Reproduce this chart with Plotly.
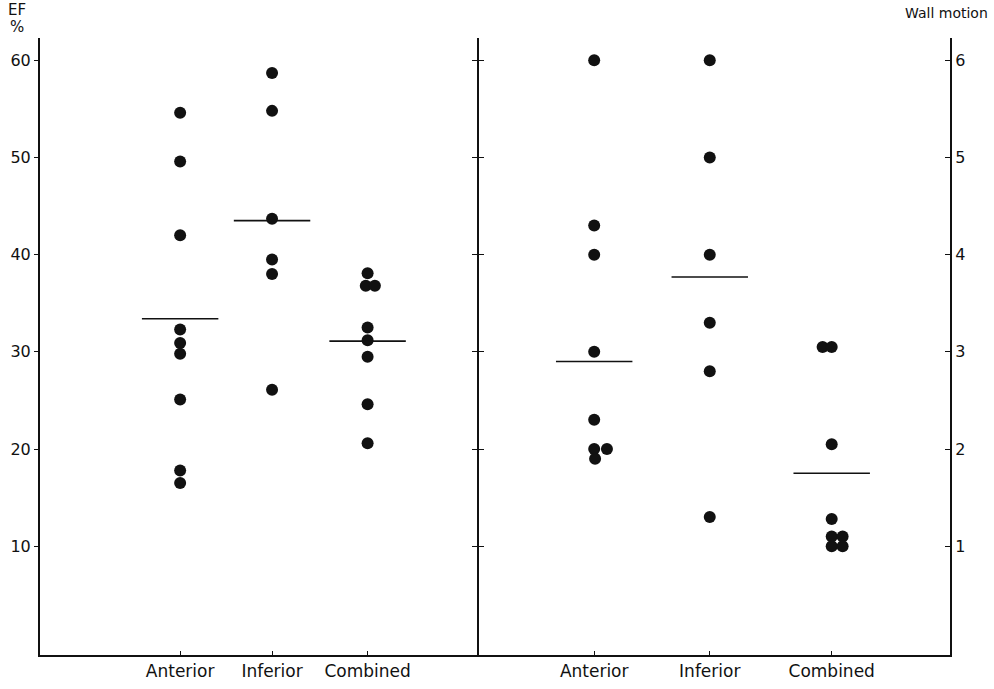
import plotly.graph_objects as go

# ---------------- data ----------------
categories = ["Anterior", "Inferior", "Combined"]

ef_anterior = [54.6, 49.6, 42.0, 32.3, 30.9, 29.8, 25.1, 17.8, 16.5]
ef_inferior = [58.7, 54.8, 43.7, 39.5, 38.0, 26.1]
ef_combined = [38.1, 36.8, 36.8, 32.5, 31.2, 29.5, 24.6, 20.6]
ef_means = [33.4, 43.5, 31.1]

wm_anterior = [6.0, 4.3, 4.0, 3.0, 2.3, 2.0, 2.0, 1.9]
wm_inferior = [6.0, 5.0, 4.0, 3.3, 2.8, 1.3]
wm_combined = [3.05, 3.05, 2.05, 1.28, 1.1, 1.1, 1.0, 1.0]
wm_means = [2.9, 3.77, 1.75]

ef_ticks = [10, 20, 30, 40, 50, 60]
wm_ticks = [1, 2, 3, 4, 5, 6]

# ---------------- layout helpers (positions / styling) ----------------
left_pos = [1.54, 2.55, 3.60]
right_pos = [6.09, 7.36, 8.70]
divider_pos = 4.81
half_w = 0.42

# small horizontal offsets for overlapping dots
ef_dx = [
    [0] * 9,
    [0] * 6,
    [0, -0.02, 0.08, 0, 0, 0, 0, 0],
]
wm_dx = [
    [0, 0, 0, 0, 0, 0, 0.14, 0.01],
    [0] * 6,
    [-0.1, 0, 0, 0, 0, 0.12, 0, 0.12],
]

FONT = "DejaVu Sans"
BLACK = "#111111"

fig = go.Figure()

ef_groups = [ef_anterior, ef_inferior, ef_combined]
wm_groups = [wm_anterior, wm_inferior, wm_combined]

for i, vals in enumerate(ef_groups):
    fig.add_trace(go.Scatter(
        x=[left_pos[i] + d for d in ef_dx[i]], y=vals, mode="markers",
        marker=dict(size=12, color=BLACK), yaxis="y", showlegend=False,
        hoverinfo="y"))
    fig.add_trace(go.Scatter(
        x=[left_pos[i] - half_w, left_pos[i] + half_w], y=[ef_means[i]] * 2,
        mode="lines", line=dict(color=BLACK, width=1.6), yaxis="y",
        showlegend=False, hoverinfo="skip"))

for i, vals in enumerate(wm_groups):
    fig.add_trace(go.Scatter(
        x=[right_pos[i] + d for d in wm_dx[i]], y=vals, mode="markers",
        marker=dict(size=12, color=BLACK), yaxis="y2", showlegend=False,
        hoverinfo="y"))
    fig.add_trace(go.Scatter(
        x=[right_pos[i] - half_w, right_pos[i] + half_w], y=[wm_means[i]] * 2,
        mode="lines", line=dict(color=BLACK, width=1.6), yaxis="y2",
        showlegend=False, hoverinfo="skip"))

# empty traces so the divider axes are drawn
fig.add_trace(go.Scatter(x=[None], y=[None], yaxis="y3", showlegend=False))
fig.add_trace(go.Scatter(x=[None], y=[None], yaxis="y4", showlegend=False))

ef_range = [-1.2, 62.3]
wm_range = [r / 10 for r in ef_range]
div_frac = divider_pos / 10

fig.update_layout(
    template="none",
    width=994, height=689,
    margin=dict(l=40, r=44, t=38, b=34, autoexpand=False),
    paper_bgcolor="white", plot_bgcolor="white",
    font=dict(family=FONT, color=BLACK, size=16),
    xaxis=dict(
        range=[0, 10], showgrid=False, zeroline=False, automargin=False,
        showline=True, linecolor=BLACK, linewidth=2,
        tickvals=left_pos + right_pos, ticktext=categories + categories,
        ticks="inside", ticklen=4, tickcolor=BLACK,
        tickfont=dict(size=17, family=FONT),
    ),
    yaxis=dict(
        range=ef_range, showgrid=False, zeroline=False, automargin=False,
        showline=True, linecolor=BLACK, linewidth=2,
        tickvals=ef_ticks, ticktext=[str(t) for t in ef_ticks],
        ticks="outside", ticklen=4, tickcolor=BLACK,
        tickfont=dict(size=16, family=FONT),
    ),
    yaxis2=dict(
        range=wm_range, overlaying="y", side="right", anchor="x",
        showgrid=False, zeroline=False, automargin=False,
        showline=True, linecolor=BLACK, linewidth=2,
        tickvals=wm_ticks, ticktext=[str(t) for t in wm_ticks],
        ticks="inside", ticklen=5, tickcolor=BLACK,
        tickfont=dict(size=16, family=FONT),
    ),
    yaxis3=dict(
        range=ef_range, overlaying="y", side="left", anchor="free",
        position=div_frac, showgrid=False, zeroline=False, automargin=False,
        showline=True, linecolor=BLACK, linewidth=2,
        tickvals=ef_ticks, ticks="outside", ticklen=5, tickcolor=BLACK,
        showticklabels=False,
    ),
    yaxis4=dict(
        range=ef_range, overlaying="y", side="right", anchor="free",
        position=div_frac, showgrid=False, zeroline=False, automargin=False,
        showline=False,
        tickvals=ef_ticks, ticks="outside", ticklen=5, tickcolor=BLACK,
        showticklabels=False,
    ),
    annotations=[
        dict(text="EF", xref="paper", yref="paper", x=-0.025, y=1.045,
             xanchor="center", yanchor="middle", showarrow=False,
             font=dict(size=15, family=FONT)),
        dict(text="%", xref="paper", yref="paper", x=-0.025, y=1.018,
             xanchor="center", yanchor="middle", showarrow=False,
             font=dict(size=15, family=FONT)),
        dict(text="Wall motion", xref="paper", yref="paper", x=1.044, y=1.04,
             xanchor="right", yanchor="middle", showarrow=False,
             font=dict(size=14, family=FONT)),
    ],
)

fig.write_html(
    "out.html",
    config={"displayModeBar": False},
    post_script="document.body.style.margin='0';document.body.style.overflow='hidden';",
)
